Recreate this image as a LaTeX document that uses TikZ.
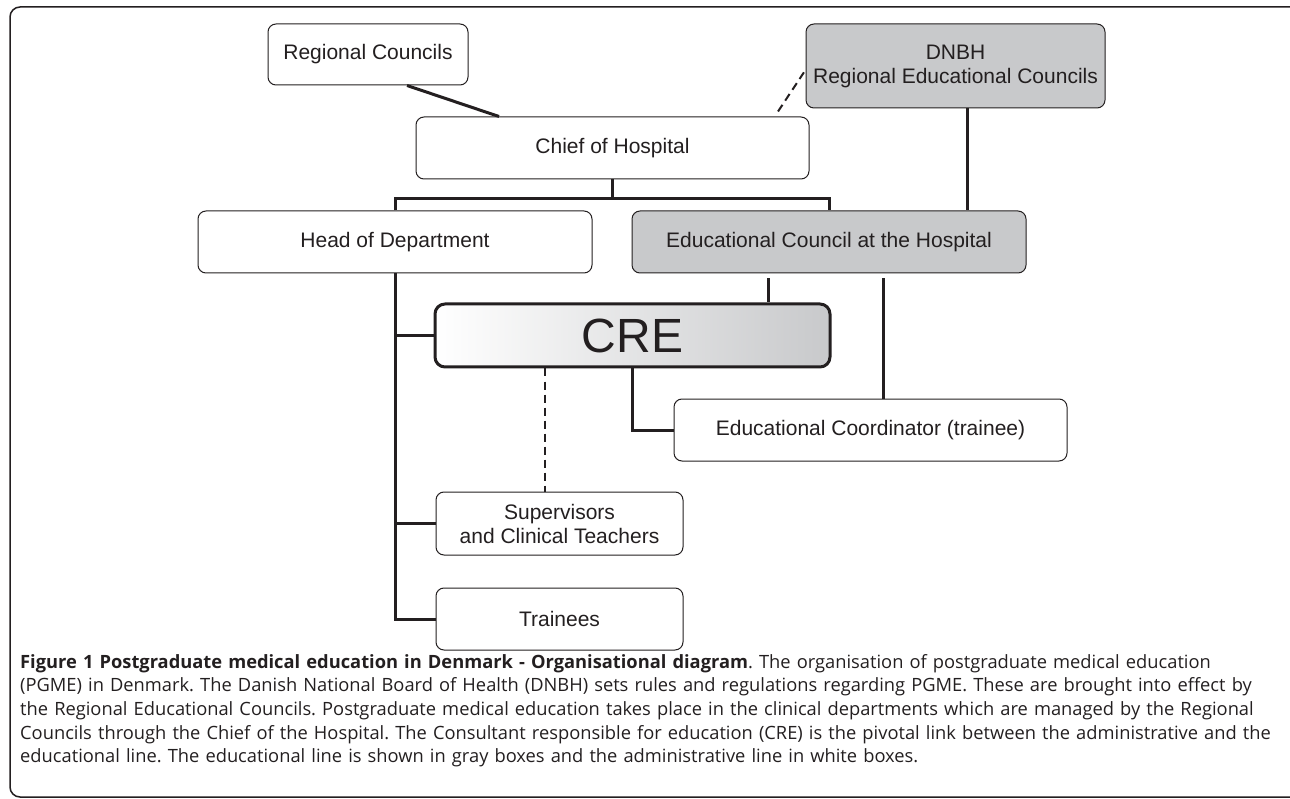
\documentclass[tikz,border=0pt]{standalone}
\usepackage{fontspec}
\setmainfont{Liberation Sans}
\newfontfamily\capfont{Open Sans}
\usetikzlibrary{positioning}
\definecolor{ink}{HTML}{231F20}
\definecolor{edugray}{HTML}{C8C9CB}
\tikzset{
  box/.style={draw=ink,line width=1pt,rounded corners=8pt,fill=white,text=ink,
    font=\fontsize{21}{24}\selectfont,align=center,inner sep=0pt,
    minimum width=394pt,minimum height=62pt},
  edubox/.style={box,fill=edugray},
  link/.style={draw=ink,line width=3pt},
  dlink/.style={draw=ink,line width=2pt,dash pattern=on 8pt off 5pt},
}

\begin{document}
\begin{tikzpicture}[x=1pt,y=-1pt]
   \useasboundingbox (0,0) rectangle (1290,799);
   \clip (0,0) rectangle (1290,799);
   \draw[ink,line width=1.5pt,rounded corners=10pt] (10,7) rectangle (1310,797);
   \node[box,minimum width=200pt,minimum height=61pt](rc) at (368,54.5){Regional Councils};
   \node[box,minimum width=393pt](chief) at (612.5,148){Chief of Hospital};
   \node[edubox,minimum width=299pt,minimum height=84pt](dnbh) at (955.5,66){DNBH\\Regional Educational Councils};
   \node[box](head) at (395,242){Head of Department};
   \node[edubox](educ) at (829,242){Educational Council at the Hospital};
   \node[box,line width=3pt,rounded corners=10pt,left color=white,right color=edugray,
     minimum width=395pt,minimum height=63pt,font=\fontsize{48}{50}\selectfont](cre) at (632.5,335.5){CRE};
   \node[box,minimum width=393pt](coord) at (870.5,430){Educational Coordinator (trainee)};
   \node[box,minimum width=247pt,minimum height=63pt](sup) at (559.5,523.5){Supervisors\\and Clinical Teachers};
   \node[box,minimum width=247pt,below=32pt of sup](train){Trainees};
   \coordinate(bar) at ([yshift=-19pt]chief.south);
   \draw[link] (chief.south)--(bar);
   \draw[link] (head.north) |- (bar) -| (educ.north);
   \draw[link] ([xshift=39pt]rc.south)--([xshift=-113.5pt]chief.north);
   \draw[dlink] ([xshift=165.5pt,yshift=5pt]chief.north)--([yshift=-4pt]dnbh.west);
   \draw[link] ([xshift=11.5pt]dnbh.south)--([xshift=11.5pt]dnbh.south |- educ.north);
   \draw[link] (head.south)--(head.south |- train.west)--(train.west);
   \draw[link] (head.south |- cre.west)--(cre.west);
   \draw[link] (head.south |- sup.west)--(sup.west);
   \draw[link,shorten <=5pt] ([xshift=-61pt]educ.south)--([xshift=-61pt]educ.south |- cre.north);
   \draw[link,shorten <=5pt] ([xshift=54pt]educ.south)--([xshift=54pt]educ.south |- coord.north);
   \draw[link] (cre.south) |- (coord.west);
   \draw[dlink] ([xshift=-14.5pt]sup.north |- cre.south)--([xshift=-14.5pt]sup.north);
   \node[anchor=north west,align=left,text width=1266pt,inner sep=0pt,text=ink,
     font=\capfont\fontsize{18.3}{23.6}\selectfont\frenchspacing](cap) at (20,654){%
     \textbf{Figure 1 Postgraduate medical education in Denmark - Organisational diagram}. The organisation of postgraduate medical education\\
     (PGME) in Denmark. The Danish National Board of Health (DNBH) sets rules and regulations regarding PGME. These are brought into effect by\\
     the Regional Educational Councils. Postgraduate medical education takes place in the clinical departments which are managed by the Regional\\
     Councils through the Chief of the Hospital. The Consultant responsible for education (CRE) is the pivotal link between the administrative and the\\
     educational line. The educational line is shown in gray boxes and the administrative line in white boxes.};
\end{tikzpicture}
\end{document}
